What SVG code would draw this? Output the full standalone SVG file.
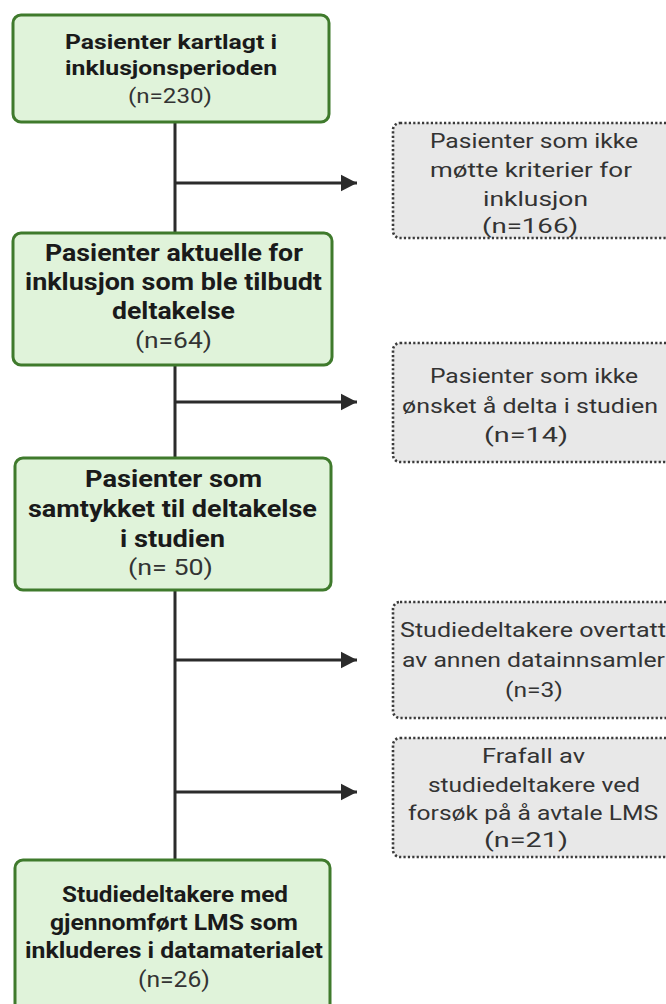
<svg xmlns="http://www.w3.org/2000/svg" width="666" height="1004" viewBox="0 0 666 1004">
<style>
.g{fill:#e0f3da;stroke:#3f7a2c;stroke-width:3}
.x{fill:#e8e8e8;stroke:#3a3a3a;stroke-width:2.6;stroke-dasharray:2.2 2.2}
.t{font-family:Roboto,"Liberation Sans",sans-serif;text-anchor:middle;fill:#1a1a1a;font-weight:700}
.n{font-family:Roboto,"Liberation Sans",sans-serif;text-anchor:middle;fill:#333;font-weight:400}
.c{stroke:#2b2b2b;stroke-width:3;fill:none}
</style>
<defs>
<marker id="ah" markerWidth="6" markerHeight="6" refX="5.4" refY="3" orient="auto" markerUnits="strokeWidth"><path d="M0,0.2 L5.4,3 L0,5.8 Z" fill="#2b2b2b"/></marker>
</defs>
<rect width="666" height="1004" fill="#fff"/>
<g id="connectors">
<line class="c" x1="175" y1="122" x2="175" y2="862"/>
<line class="c" x1="175" y1="183" x2="357" y2="183" marker-end="url(#ah)"/>
<line class="c" x1="175" y1="402" x2="357" y2="402" marker-end="url(#ah)"/>
<line class="c" x1="175" y1="660" x2="357" y2="660" marker-end="url(#ah)"/>
<line class="c" x1="175" y1="792" x2="357" y2="792" marker-end="url(#ah)"/>
</g>
<g id="n1">
<rect class="g" x="13" y="15" width="316" height="107" rx="8"/>
<g transform="scale(1.17,1)">
<text class="t" font-size="21" x="146.2" y="49" textLength="181.2" lengthAdjust="spacingAndGlyphs">Pasienter kartlagt i</text>
<text class="t" font-size="21" x="146.2" y="75" textLength="181.2" lengthAdjust="spacingAndGlyphs">inklusjonsperioden</text>
<text class="n" font-size="21" x="145.3" y="103" textLength="71.8" lengthAdjust="spacingAndGlyphs">(n=230)</text>
</g>
</g>
<g id="n2">
<rect class="g" x="13" y="233" width="319" height="132" rx="8"/>
<g transform="scale(1.17,1)">
<text class="t" font-size="23" x="148.7" y="261" textLength="220.5" lengthAdjust="spacingAndGlyphs">Pasienter aktuelle for</text>
<text class="t" font-size="23" x="148.3" y="290" textLength="253.8" lengthAdjust="spacingAndGlyphs">inklusjon som ble tilbudt</text>
<text class="t" font-size="23" x="148.3" y="319" textLength="105.1" lengthAdjust="spacingAndGlyphs">deltakelse</text>
<text class="n" font-size="22" x="148.3" y="348" textLength="65.8" lengthAdjust="spacingAndGlyphs">(n=64)</text>
</g>
</g>
<g id="n3">
<rect class="g" x="15" y="458" width="316" height="132" rx="8"/>
<g transform="scale(1.17,1)">
<text class="t" font-size="23" x="148.3" y="487" textLength="151.3" lengthAdjust="spacingAndGlyphs">Pasienter som</text>
<text class="t" font-size="23" x="147.4" y="517" textLength="247" lengthAdjust="spacingAndGlyphs">samtykket til deltakelse</text>
<text class="t" font-size="23" x="147.4" y="547" textLength="89.7" lengthAdjust="spacingAndGlyphs">i studien</text>
<text class="n" font-size="22" x="145.7" y="575" textLength="72.6" lengthAdjust="spacingAndGlyphs">(n= 50)</text>
</g>
</g>
<g id="n4">
<rect class="g" x="15" y="860" width="315" height="160" rx="8"/>
<g transform="scale(1.17,1)">
<text class="t" font-size="22" x="149.6" y="902" textLength="193.2" lengthAdjust="spacingAndGlyphs">Studiedeltakere med</text>
<text class="t" font-size="22" x="148.7" y="930" textLength="212" lengthAdjust="spacingAndGlyphs">gjennomført LMS som</text>
<text class="t" font-size="22" x="148.7" y="958" textLength="254.7" lengthAdjust="spacingAndGlyphs">inkluderes i datamaterialet</text>
<text class="n" font-size="22" x="148.7" y="987" textLength="61.5" lengthAdjust="spacingAndGlyphs">(n=26)</text>
</g>
</g>
<g id="e1">
<rect class="x" x="393" y="123" width="290" height="115" rx="7"/>
<g transform="scale(1.19,1)">
<text class="n" font-size="21" x="448.7" y="148" textLength="174.8" lengthAdjust="spacingAndGlyphs">Pasienter som ikke</text>
<text class="n" font-size="21" x="446.2" y="177" textLength="169.7" lengthAdjust="spacingAndGlyphs">møtte kriterier for</text>
<text class="n" font-size="21" x="450" y="206" textLength="88.2" lengthAdjust="spacingAndGlyphs">inklusjon</text>
<text class="n" font-size="21" x="445.4" y="233" textLength="80.7" lengthAdjust="spacingAndGlyphs">(n=166)</text>
</g>
</g>
<g id="e2">
<rect class="x" x="393" y="343" width="290" height="119" rx="7"/>
<g transform="scale(1.19,1)">
<text class="n" font-size="21" x="448.7" y="383" textLength="174.8" lengthAdjust="spacingAndGlyphs">Pasienter som ikke</text>
<text class="n" font-size="21" x="445.4" y="413" textLength="215.1" lengthAdjust="spacingAndGlyphs">ønsket å delta i studien</text>
<text class="n" font-size="21" x="442" y="442" textLength="70.6" lengthAdjust="spacingAndGlyphs">(n=14)</text>
</g>
</g>
<g id="e3">
<rect class="x" x="393" y="602" width="290" height="116" rx="7"/>
<g transform="scale(1.19,1)">
<text class="n" font-size="21" x="447.9" y="637" textLength="223.5" lengthAdjust="spacingAndGlyphs">Studiedeltakere overtatt</text>
<text class="n" font-size="21" x="448.3" y="667" textLength="221" lengthAdjust="spacingAndGlyphs">av annen datainnsamler</text>
<text class="n" font-size="21" x="448.7" y="697" textLength="48.7" lengthAdjust="spacingAndGlyphs">(n=3)</text>
</g>
</g>
<g id="e4">
<rect class="x" x="393" y="738" width="290" height="119" rx="7"/>
<g transform="scale(1.19,1)">
<text class="n" font-size="21" x="448.3" y="763" textLength="86.6" lengthAdjust="spacingAndGlyphs">Frafall av</text>
<text class="n" font-size="21" x="448.7" y="792" textLength="178.2" lengthAdjust="spacingAndGlyphs">studiedeltakere ved</text>
<text class="n" font-size="21" x="447.9" y="820" textLength="210.1" lengthAdjust="spacingAndGlyphs">forsøk på å avtale LMS</text>
<text class="n" font-size="21" x="442" y="847" textLength="70.6" lengthAdjust="spacingAndGlyphs">(n=21)</text>
</g>
</g>
</svg>
